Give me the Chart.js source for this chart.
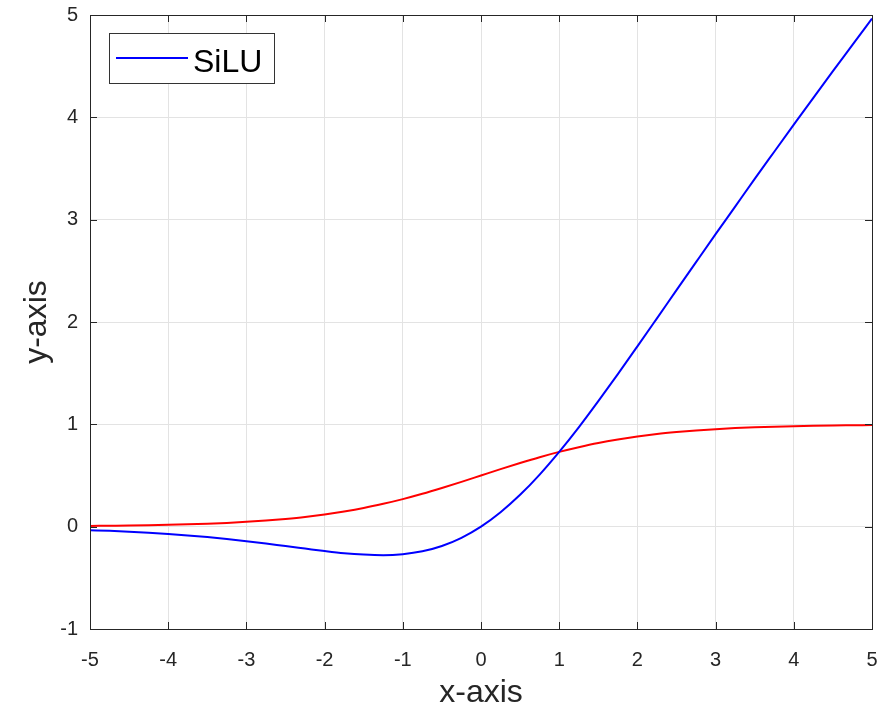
<!DOCTYPE html>
<html>
<head>
<meta charset="utf-8">
<script src="https://cdn.jsdelivr.net/npm/chart.js@4/dist/chart.umd.min.js"></script>
<style>
  html, body { margin: 0; padding: 0; background: #fff; }
  #wrap { width: 882px; height: 709px; position: relative; }
</style>
</head>
<body>
<div id="wrap"><canvas id="c"></canvas></div>
<script>
// Values
const xValues = [-5, -4.75, -4.5, -4.25, -4, -3.75, -3.5, -3.25, -3, -2.75, -2.5, -2.25, -2, -1.75, -1.5, -1.25, -1, -0.75, -0.5, -0.25, 0,
                 0.25, 0.5, 0.75, 1, 1.25, 1.5, 1.75, 2, 2.25, 2.5, 2.75, 3, 3.25, 3.5, 3.75, 4, 4.25, 4.5, 4.75, 5];
const siluValues = [-0.034, -0.041, -0.050, -0.060, -0.072, -0.086, -0.102, -0.121, -0.142, -0.165, -0.190, -0.214, -0.238, -0.259, -0.273, -0.279, -0.269, -0.241, -0.189, -0.109, 0,
                    0.141, 0.311, 0.509, 0.731, 0.971, 1.227, 1.491, 1.762, 2.036, 2.311, 2.585, 2.858, 3.128, 3.399, 3.664, 3.928, 4.191, 4.451, 4.708, 4.966];
const sigmoidValues = [0.007, 0.009, 0.011, 0.014, 0.018, 0.023, 0.029, 0.037, 0.047, 0.060, 0.076, 0.095, 0.119, 0.148, 0.182, 0.223, 0.269, 0.321, 0.378, 0.438, 0.5,
                       0.562, 0.622, 0.679, 0.731, 0.777, 0.818, 0.852, 0.881, 0.905, 0.924, 0.940, 0.953, 0.963, 0.971, 0.977, 0.982, 0.986, 0.989, 0.991, 0.993];
const xTicks = [-5, -4, -3, -2, -1, 0, 1, 2, 3, 4, 5];
const yTicks = [-1, 0, 1, 2, 3, 4, 5];
const seriesNames = ['SiLU', 'Sigmoid'];
const axisTitles = { x: 'x-axis', y: 'y-axis' };

const FONT = 'Liberation Sans, Arial, Helvetica, sans-serif';
const AXIS_COLOR = '#262626';

const toPoints = (ys) => xValues.map((x, i) => ({ x: x, y: ys[i] }));

const frameAndTicks = {
  id: 'frameAndTicks',
  afterDraw(chart) {
    const { ctx, chartArea: a, scales } = chart;
    const L = 7;
    ctx.save();
    ctx.strokeStyle = AXIS_COLOR;
    ctx.lineWidth = 1;
    ctx.beginPath();
    xTicks.forEach(v => {
      const px = Math.round(scales.x.getPixelForValue(v)) + 0.5;
      ctx.moveTo(px, a.bottom); ctx.lineTo(px, a.bottom - L);
      ctx.moveTo(px, a.top); ctx.lineTo(px, a.top + L);
    });
    yTicks.forEach(v => {
      const py = Math.round(scales.y.getPixelForValue(v)) + 0.5;
      ctx.moveTo(a.left, py); ctx.lineTo(a.left + L, py);
      ctx.moveTo(a.right, py); ctx.lineTo(a.right - L, py);
    });
    ctx.stroke();
    ctx.strokeRect(Math.round(a.left) + 0.5, Math.round(a.top) + 0.5, Math.round(a.right - a.left), Math.round(a.bottom - a.top));
    // legend box (top-left inside plot area)
    const ds = chart.data.datasets[0];
    const bx = a.left + 19, by = a.top + 18, bw = 165, bh = 50;
    ctx.fillStyle = '#ffffff';
    ctx.fillRect(bx, by, bw, bh);
    ctx.strokeStyle = '#333333';
    ctx.strokeRect(bx + 0.5, by + 0.5, bw, bh);
    ctx.strokeStyle = ds.borderColor;
    ctx.lineWidth = 2;
    ctx.beginPath();
    ctx.moveTo(bx + 7, by + 25); ctx.lineTo(bx + 79, by + 25);
    ctx.stroke();
    ctx.fillStyle = '#000000';
    ctx.font = '32px ' + FONT;
    ctx.textBaseline = 'alphabetic';
    ctx.textAlign = 'left';
    ctx.fillText(ds.label, bx + 84, by + 39);
    ctx.restore();
  }
};

new Chart(document.getElementById('c'), {
  type: 'line',
  data: {
    datasets: [
      { label: seriesNames[0], data: toPoints(siluValues), borderColor: '#0000ff', borderWidth: 2, pointRadius: 0, fill: false, cubicInterpolationMode: 'monotone' },
      { label: seriesNames[1], data: toPoints(sigmoidValues), borderColor: '#ff0000', borderWidth: 2, pointRadius: 0, fill: false, cubicInterpolationMode: 'monotone' }
    ]
  },
  options: {
    responsive: true,
    maintainAspectRatio: false,
    animation: false,
    layout: { padding: { top: 15, right: 10, left: 0, bottom: 0 } },
    plugins: { legend: { display: false }, tooltip: { enabled: false } },
    scales: {
      x: {
        type: 'linear', min: -5, max: 5,
        afterFit(s) { s.height = 80; s.paddingLeft = 0; s.paddingRight = 0; },
        afterBuildTicks(s) { s.ticks = xTicks.map(v => ({ value: v })); },
        ticks: { font: { family: FONT, size: 20 }, color: AXIS_COLOR, padding: 19, maxRotation: 0 },
        grid: { color: '#e3e3e3', drawTicks: false },
        border: { color: AXIS_COLOR, width: 1 },
        title: { display: true, text: axisTitles.x, font: { family: FONT, size: 32, lineHeight: 1 }, color: AXIS_COLOR, padding: { top: 0, bottom: 0 } }
      },
      y: {
        type: 'linear', min: -1, max: 5,
        afterFit(s) { s.width = 90; s.paddingTop = 0; s.paddingBottom = 0; },
        afterBuildTicks(s) { s.ticks = yTicks.map(v => ({ value: v })); },
        ticks: { font: { family: FONT, size: 20 }, color: AXIS_COLOR, padding: 12 },
        grid: { color: '#e3e3e3', drawTicks: false },
        border: { color: AXIS_COLOR, width: 1 },
        title: { display: true, text: axisTitles.y, font: { family: FONT, size: 32, lineHeight: 1 }, color: AXIS_COLOR, padding: { top: 21, bottom: 0 } }
      }
    }
  },
  plugins: [frameAndTicks]
});
</script>
</body>
</html>
